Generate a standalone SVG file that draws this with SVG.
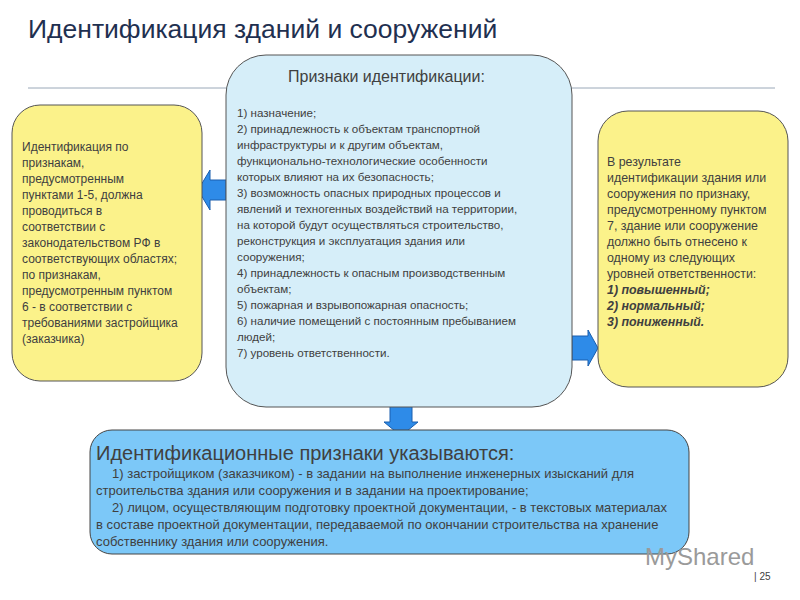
<svg xmlns="http://www.w3.org/2000/svg" width="800" height="600" viewBox="0 0 800 600">
<style>
text{font-family:"Liberation Sans",Arial,sans-serif;fill:#404040}
.s{font-size:12px}
.r{font-size:12.4px}
.b{font-size:11.6px}
.c{font-size:13px}
.y{fill:#fbf28a;stroke:#555;stroke-width:1}
.arr{fill:#2e8be8;stroke:#1a5fae;stroke-width:1}
</style>
<rect width="800" height="600" fill="#fff"/>
<text x="28" y="38" font-size="26.5" style="fill:#1f3050">Идентификация зданий и сооружений</text>
<line x1="28" y1="88" x2="775" y2="88" stroke="#9aa8b8" stroke-width="1"/>
<g id="connectors">
<polygon class="arr" points="226,180 210,180 210,170 198,190 210,210 210,200 226,200"/>
<polygon class="arr" points="572,336 588,336 588,330 598,348 588,366 588,360 572,360"/>
<polygon class="arr" points="390,405 412,405 412,422 418,422 401,436 384,422 390,422"/>
</g>
<g id="left">
<rect class="y" x="12" y="105" width="190" height="276" rx="28"/>
<text class="s"><tspan x="22" y="151">Идентификация по</tspan><tspan x="22" y="167">признакам,</tspan><tspan x="22" y="183">предусмотренным</tspan><tspan x="22" y="199">пунктами 1-5, должна</tspan><tspan x="22" y="215">проводиться в</tspan><tspan x="22" y="231">соответствии с</tspan><tspan x="22" y="247">законодательством РФ в</tspan><tspan x="22" y="263">соответствующих областях;</tspan><tspan x="22" y="279">по признакам,</tspan><tspan x="22" y="295">предусмотренным пунктом</tspan><tspan x="22" y="311">6 - в соответствии с</tspan><tspan x="22" y="327">требованиями застройщика</tspan><tspan x="22" y="343">(заказчика)</tspan></text>
</g>
<g id="center">
<rect x="226" y="55" width="346" height="352" rx="40" fill="#d6eef9" stroke="#555"/>
<text x="288" y="82" font-size="16">Признаки идентификации:</text>
<text class="b"><tspan x="237" y="117">1) назначение;</tspan><tspan x="237" y="133">2) принадлежность к объектам транспортной</tspan><tspan x="237" y="149">инфраструктуры и к другим объектам,</tspan><tspan x="237" y="165">функционально-технологические особенности</tspan><tspan x="237" y="181">которых влияют на их безопасность;</tspan><tspan x="237" y="197">3) возможность опасных природных процессов и</tspan><tspan x="237" y="213">явлений и техногенных воздействий на территории,</tspan><tspan x="237" y="229">на которой будут осуществляться строительство,</tspan><tspan x="237" y="245">реконструкция и эксплуатация здания или</tspan><tspan x="237" y="261">сооружения;</tspan><tspan x="237" y="277">4) принадлежность к опасным производственным</tspan><tspan x="237" y="293">объектам;</tspan><tspan x="237" y="309">5) пожарная и взрывопожарная опасность;</tspan><tspan x="237" y="325">6) наличие помещений с постоянным пребыванием</tspan><tspan x="237" y="341">людей;</tspan><tspan x="237" y="357">7) уровень ответственности.</tspan></text>
</g>
<g id="right">
<rect class="y" x="598" y="111" width="190" height="276" rx="30"/>
<text class="r"><tspan x="607" y="166">В результате</tspan><tspan x="607" y="182">идентификации здания или</tspan><tspan x="607" y="198">сооружения по признаку,</tspan><tspan x="607" y="214">предусмотренному пунктом</tspan><tspan x="607" y="230">7, здание или сооружение</tspan><tspan x="607" y="246">должно быть отнесено к</tspan><tspan x="607" y="262">одному из следующих</tspan><tspan x="607" y="278">уровней ответственности:</tspan></text>
<text class="r" font-weight="bold" font-style="italic"><tspan x="607" y="294">1) повышенный;</tspan><tspan x="607" y="310">2) нормальный;</tspan><tspan x="607" y="326">3) пониженный.</tspan></text>
</g>
<g id="bottom">
<rect x="90" y="430" width="599" height="124" rx="22" fill="#7cc8f8" stroke="#444"/>
<text x="96" y="460" font-size="20">Идентификационные признаки указываются:</text>
<text class="c"><tspan x="112" y="478">1) застройщиком (заказчиком) - в задании на выполнение инженерных изысканий для</tspan><tspan x="96" y="495">строительства здания или сооружения и в задании на проектирование;</tspan><tspan x="112" y="512">2) лицом, осуществляющим подготовку проектной документации, - в текстовых материалах</tspan><tspan x="96" y="529">в составе проектной документации, передаваемой по окончании строительства на хранение</tspan><tspan x="96" y="546">собственнику здания или сооружения.</tspan></text>
</g>
<text x="645" y="565" font-size="24" style="fill:#9a9a9a">MyShared</text>
<text x="754" y="580" font-size="10">| 25</text>
</svg>
